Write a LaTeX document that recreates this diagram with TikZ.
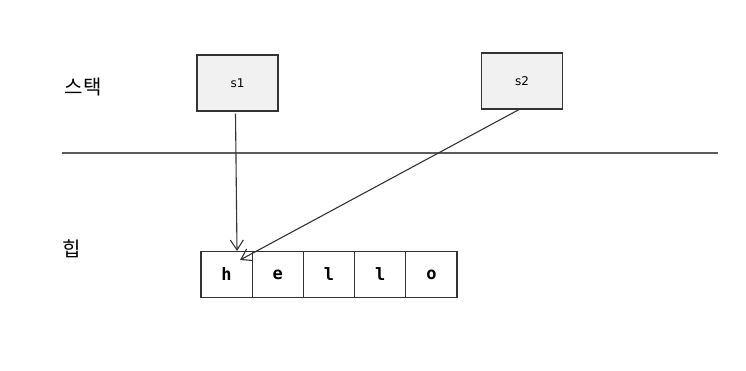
\documentclass[tikz,border=0pt]{standalone}
\usepackage{fontspec}
\setmonofont{DejaVu Sans Mono}
\setsansfont{DejaVu Sans}
\newfontfamily\kr{Noto Sans CJK KR}
\usetikzlibrary{arrows.meta}
\definecolor{boxgray}{HTML}{F1F1F1}
\definecolor{inkgray}{HTML}{333333}
\tikzset{ptr/.style={fill=boxgray,draw=inkgray,line width=1.1pt,minimum width=81pt,minimum height=56pt,font=\sffamily\fontsize{12}{14}\selectfont},
cell/.style={draw=inkgray,line width=1.1pt,minimum width=51.2pt,minimum height=46pt,font=\ttfamily\bfseries\fontsize{17}{20}\selectfont},
area/.style={font=\kr\fontsize{20}{24}\selectfont},
link/.style={-{Straight Barb[length=10pt,width=13pt]},inkgray,line width=1.1pt}}
\begin{document}
\begin{tikzpicture}[x=1pt,y=-1pt]
\useasboundingbox(0,0)rectangle(746,370);
\draw[inkgray!80,line width=1.1pt](62,153)--(718,153);
\node[area](stack)at(83,87){스택};\node[area](heap)at(72,249){힙};
\node[ptr](s1)at(237.5,83){s1};\node[ptr](s2)at(522,81){s2};
\node[cell](h)at(226.6,274.5){h};\node[cell](e)at(277.8,274.5){e};\node[cell](l1)at(329,274.5){l};\node[cell](l2)at(380.2,274.5){l};\node[cell](o)at(431.4,274.5){o};
\coordinate(hp)at(237,251);\coordinate(hq)at(240,260);
\draw[link](s1.south)++(-2,2)--(hp);
\draw[link](s2.south)++(-3,0)--(hq);
\end{tikzpicture}
\end{document}
